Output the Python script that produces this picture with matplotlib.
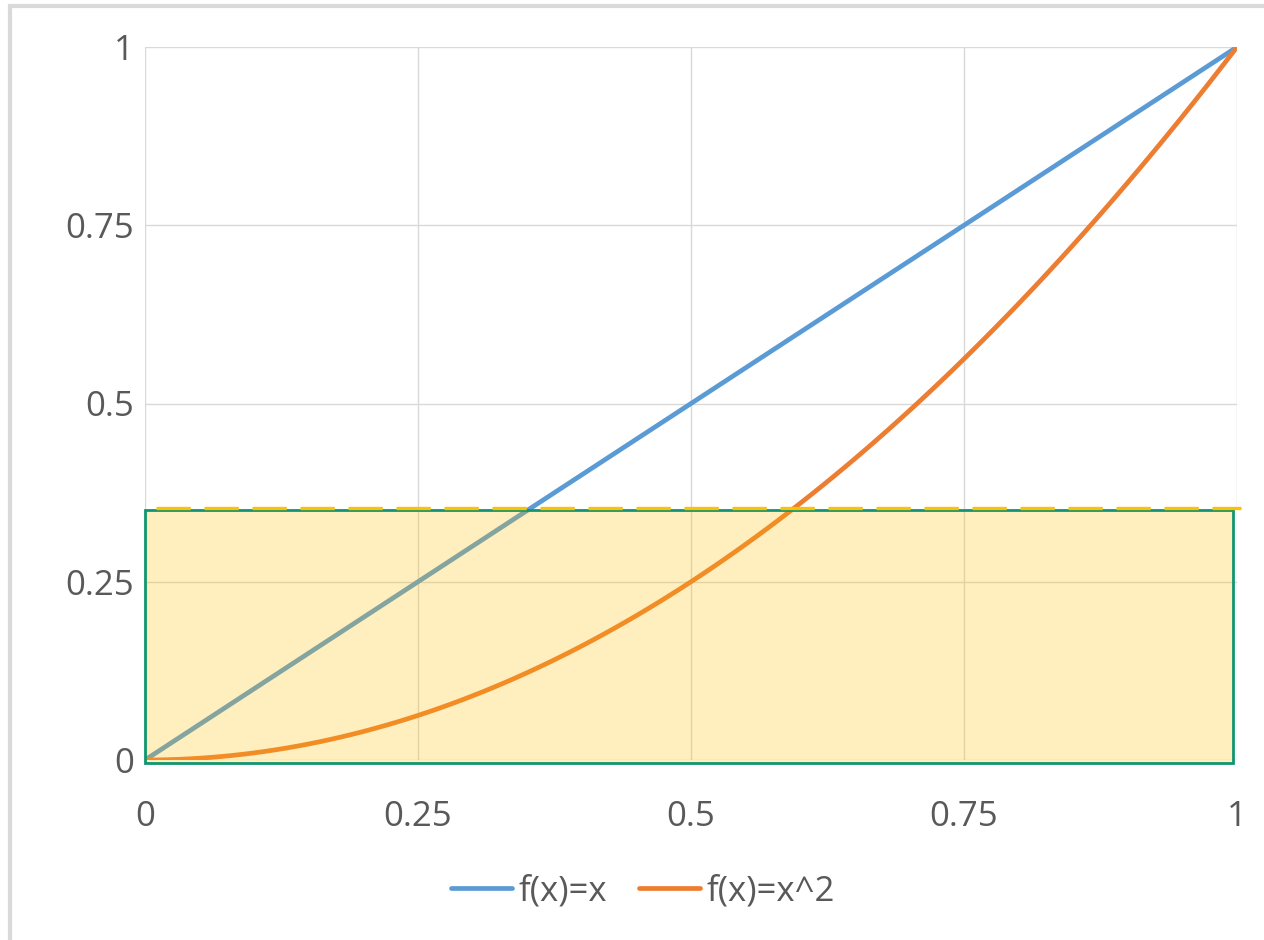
import numpy as np
import matplotlib.pyplot as plt
from matplotlib.patches import Rectangle

# data
x_vals = np.linspace(0, 1, 101)
y_linear = x_vals
y_square = x_vals ** 2
level = 0.3535          # dashed level
box_top = 0.351         # top of the shaded box
box_x = [0, 1]
ticks = [0, 0.25, 0.5, 0.75, 1]
tick_labels = ["0", "0.25", "0.5", "0.75", "1"]

BLUE = "#5B9BD5"
ORANGE = "#ED7D31"
GOLD = "#FFC000"
GREEN = "#11966F"
TEXT = "#595959"

plt.rcParams['font.family'] = ['Open Sans', 'DejaVu Sans']

fig = plt.figure(figsize=(12.64, 9.4), dpi=100)
ax = fig.add_axes([145 / 1264, 1 - 760 / 940, 1092 / 1264, 713 / 940])

# chart area frame (cut off at right and bottom)
fig.patches.append(Rectangle((10 / 1264, -0.1), 1.2, 1 - 6 / 940 + 0.1,
                             transform=fig.transFigure, fill=False,
                             edgecolor="#D9D9D9", linewidth=3))

ax.plot(x_vals, y_linear, color=BLUE, lw=3.4, label="f(x)=x",
        solid_capstyle="round", zorder=3)
ax.plot(x_vals, y_square, color=ORANGE, lw=3.4, label="f(x)=x^2",
        solid_capstyle="round", zorder=3)

# shaded box on top of the lines
ax.add_patch(Rectangle((box_x[0], -0.004), box_x[1] - box_x[0] - 0.004, box_top + 0.004,
                       facecolor=GOLD, alpha=0.25, edgecolor="none", zorder=4,
                       clip_on=False))
ax.add_patch(Rectangle((box_x[0], -0.004), box_x[1] - box_x[0] - 0.004, box_top + 0.004,
                       facecolor="none", edgecolor=GREEN, lw=2, zorder=5,
                       clip_on=False))
ax.plot([0.01, 1.004], [level, level], color=GOLD, lw=2.4, dashes=(10.3, 4.1),
        zorder=5, clip_on=False)

ax.set_xlim(0, 1)
ax.set_ylim(0, 1)
ax.set_xticks(ticks)
ax.set_xticklabels(tick_labels)
ax.set_yticks(ticks)
ax.set_yticklabels(tick_labels)
ax.tick_params(length=0, labelsize=25, colors=TEXT, pad=8)
ax.tick_params(axis="x", pad=29)
ax.grid(color="#D9D9D9", lw=1.0)
for s in ax.spines.values():
    s.set_visible(False)

leg = fig.legend(loc="center", bbox_to_anchor=(643 / 1264, 1 - 891 / 940),
                 ncol=2, frameon=False, fontsize=25, handlelength=1.75,
                 handletextpad=0.2, columnspacing=0.9)
for t in leg.get_texts():
    t.set_color(TEXT)

fig.savefig("out.png", dpi=100)
